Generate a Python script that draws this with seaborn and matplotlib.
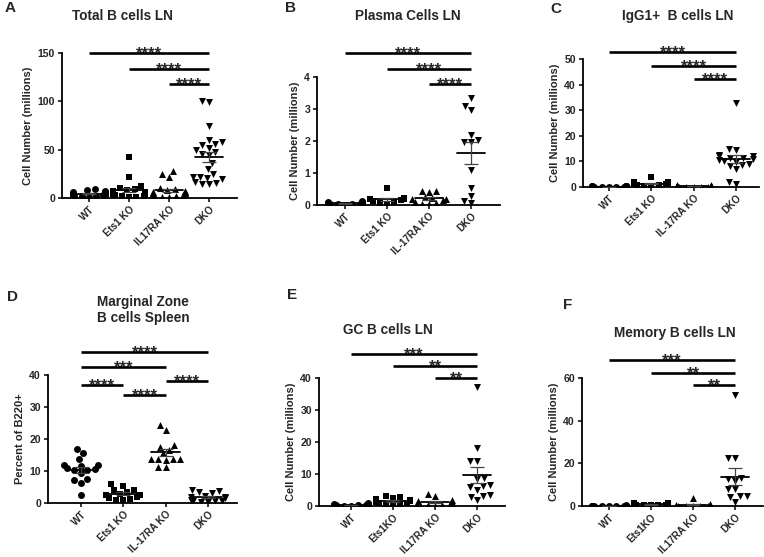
import numpy as np
import pandas as pd
import matplotlib
matplotlib.use("Agg")
import matplotlib.pyplot as plt
import seaborn as sns

sns.set_style("ticks")
plt.rcParams["font.family"] = ["Liberation Sans", "DejaVu Sans"]
plt.rcParams["font.weight"] = "bold"
plt.rcParams["axes.labelweight"] = "bold"

# ---------------- data ----------------
markers = ["o", "s", "^", "v"]

# A: Total B cells LN
a_labels = ["WT", "Ets1 KO", "IL17RA KO", "DKO"]
a_wt = [2, 3, 4, 5, 6, 8, 9, 3, 2, 4, 5, 3, 1, 2, 6, 7]
a_ets = [42, 22, 12, 10, 8, 7, 6, 5, 5, 4, 3, 3, 2, 2, 1, 1, 4, 6, 9]
a_il = [28, 25, 22, 10, 9, 8, 7, 6, 5, 5, 4, 3, 3, 2, 2, 1, 1, 4, 6]
a_dko = [100, 99, 75, 60, 58, 56, 55, 52, 50, 48, 46, 44, 36, 30, 25, 22, 22, 21, 20, 17, 16, 15, 14]
a_sig = [(0, 3, 150, "****"), (1, 3, 133.5, "****"), (2, 3, 118, "****")]

# B: Plasma Cells LN
b_labels = ["WT", "Ets1 KO", "IL-17RA KO", "DKO"]
b_wt = [0.12, 0.1, 0.08, 0.07, 0.06, 0.05, 0.04, 0.04, 0.03, 0.03, 0.02, 0.02, 0.01]
b_ets = [0.52, 0.22, 0.2, 0.2, 0.18, 0.15, 0.12, 0.1, 0.05, 0.04]
b_il = [0.45, 0.42, 0.44, 0.25, 0.22, 0.2, 0.15, 0.1, 0.05, 0.03, 0.02, 0.2]
b_dko = [3.33, 3.1, 2.97, 2.2, 1.98, 1.96, 2.03, 1.09, 0.52, 0.29, 0.05, 0.13]
b_sig = [(0, 3, 4.75, "****"), (1, 3, 4.25, "****"), (2, 3, 3.78, "****")]

# C: IgG1+ B cells LN
c_labels = ["WT", "Ets1 KO", "IL-17RA KO", "DKO"]
c_wt = [0.3, 0.25, 0.2, 0.2, 0.15, 0.15, 0.1, 0.1, 0.1, 0.05, 0.2, 0.3, 0.1, 0.15]
c_ets = [4, 2, 1.8, 1.5, 1.5, 1.2, 1, 1, 0.8, 0.6, 0.5, 0.4, 1.3]
c_il = [0.8, 0.6, 0.5, 0.4, 0.3, 0.3, 0.2, 0.2, 0.1, 0.1, 0.1, 0.05, 0.05, 0.2]
c_dko = [33, 15, 14.5, 12.5, 12.3, 12, 11.5, 11.2, 11, 10.5, 10, 9.8, 9, 8.5, 8.3, 7, 2, 1]
c_sig = [(0, 3, 52.7, "****"), (1, 3, 47.3, "****"), (2, 3, 42.2, "****")]

# D: Marginal Zone B cells Spleen
d_labels = ["WT", "Ets1 KO", "IL-17RA KO", "DKO"]
d_wt = [16.8, 15.5, 13.6, 12, 11.8, 11.5, 10.8, 10.5, 10.4, 10.2, 9.3, 7.5, 7.2, 6.4, 2.5]
d_ets = [5.9, 5.4, 4.2, 4.0, 3.5, 2.8, 2.6, 2.4, 2.0, 1.6, 1.2, 1.0, 0.8]
d_il = [24.3, 22.8, 18.1, 17.5, 16.5, 15.5, 13.7, 13.6, 13.6, 13.6, 13.5, 11.4, 11.2]
d_dko = [4.2, 3.9, 3.5, 3.2, 2.3, 2.0, 1.8, 1.6, 0.7, 0.5, 0.4, 0.3, 0.6, 1.0]
d_sig = [(0, 3, 47.2, "****"), (0, 2, 42.5, "***"), (0, 1, 36.9, "****"),
         (2, 3, 38.1, "****"), (1, 2, 33.75, "****")]

# E: GC B cells LN
e_labels = ["WT", "Ets1KO", "IL17RA KO", "DKO"]
e_wt = [0.8, 0.6, 0.5, 0.4, 0.3, 0.3, 0.2, 0.2, 0.1, 0.1, 0.5, 0.2]
e_ets = [3, 2.8, 2.5, 2.2, 2.0, 1.8, 1.5, 1.2, 1.0, 0.8, 0.6, 0.4, 0.3]
e_il = [3.6, 3.2, 2.0, 1.5, 1.2, 1.0, 0.8, 0.6, 0.5, 0.4, 0.3, 0.2, 0.1]
e_dko = [37.3, 18.2, 14.2, 14.0, 8.6, 8.3, 6.5, 6.2, 5.8, 5.0, 3.3, 3.0, 2.8, 1.8]
e_sig = [(0, 3, 47.5, "***"), (1, 3, 43.75, "**"), (2, 3, 40, "**")]

# F: Memory B cells LN
f_labels = ["WT", "Ets1KO", "IL17RA KO", "DKO"]
f_wt = [0.2, 0.1, 0.1, 0.3, 0.2, 0.1, 0.05, 0.1, 0.2, 0.15, 0.1, 0.1]
f_ets = [1.5, 1.2, 1.0, 0.8, 0.6, 0.5, 0.4, 0.3, 0.8, 0.5]
f_il = [3.8, 0.8, 0.5, 0.3, 0.2, 0.2, 0.1, 0.1, 0.1, 0.05]
f_dko = [52, 22.5, 22.3, 13, 12.5, 11.5, 8.2, 7.8, 4.8, 4.5, 4.3, 2.0]
f_sig = [(0, 3, 68.4, "***"), (1, 3, 62.3, "**"), (2, 3, 56.7, "**")]

titles = ["Total B cells LN", "Plasma Cells LN", "IgG1+  B cells LN",
          "Marginal Zone\nB cells Spleen", "GC B cells LN", "Memory B cells LN"]
letters = ["A", "B", "C", "D", "E", "F"]
ylabels = ["Cell Number (millions)"] * 3 + ["Percent of B220+"] + ["Cell Number (millions)"] * 2
yticks = [[0, 50, 100, 150], [0, 1, 2, 3, 4], [0, 10, 20, 30, 40, 50],
          [0, 10, 20, 30, 40], [0, 10, 20, 30, 40], [0, 20, 40, 60]]

panels = [
    (a_labels, [a_wt, a_ets, a_il, a_dko], a_sig),
    (b_labels, [b_wt, b_ets, b_il, b_dko], b_sig),
    (c_labels, [c_wt, c_ets, c_il, c_dko], c_sig),
    (d_labels, [d_wt, d_ets, d_il, d_dko], d_sig),
    (e_labels, [e_wt, e_ets, e_il, e_dko], e_sig),
    (f_labels, [f_wt, f_ets, f_il, f_dko], f_sig),
]

# ---------------- layout (pixels) ----------------
W, H = 764, 557
# left, right, y of zero, y of top tick, first category px, category spacing px
boxes = [
    (62, 237, 198, 53, 89, 40.0),
    (317, 500, 205, 77, 345, 42.0),
    (583, 759, 187, 59, 609, 42.3),
    (48, 237, 503, 375, 81, 42.3),
    (319, 505, 506, 378, 351, 42.0),
    (582, 763, 506, 378, 609, 42.0),
]
title_pos = [(122, 16), (408, 16), (678, 16), (143, 310), (388, 330), (675, 333)]
letter_pos = [(5, 8), (285, 8), (550, 9), (7, 297), (287, 295), (563, 305)]

fig = plt.figure(figsize=(W / 100, H / 100), dpi=100)

for k, (labels, vals, sig) in enumerate(panels):
    L, R, y0, ytop, c0, s = boxes[k]
    ax = fig.add_axes([L / W, 1 - y0 / H, (R - L) / W, (y0 - ytop) / H])
    for i, v in enumerate(vals):
        df = pd.DataFrame({"g": [labels[i]] * len(v), "v": v})
        sns.swarmplot(data=df, x="g", y="v", order=labels, marker=markers[i],
                      color="black", size=5, linewidth=0, ax=ax, warn_thresh=1)
        arr = np.asarray(v, dtype=float)
        m = arr.mean()
        se = arr.std(ddof=1) / np.sqrt(len(arr))
        ax.plot([i - 0.34, i + 0.34], [m, m], color="black", lw=1.3, zorder=5)
        ax.errorbar(i, m, yerr=se, fmt="none", ecolor="#444444", elinewidth=0.9,
                    capsize=5, capthick=0.9, zorder=5)
    ax.set_xlim((L - c0) / s, (R - c0) / s)
    ymax = yticks[k][-1]
    ax.set_ylim(0, ymax)
    ax.set_yticks(yticks[k])
    ax.set_xticks(range(4))
    ax.set_xticklabels(labels, rotation=45, ha="right", rotation_mode="anchor",
                       fontsize=7.1, fontweight="bold")
    ax.tick_params(axis="both", length=3, width=1.1, labelsize=7.6, pad=2, color="black")
    ax.tick_params(axis="x", labelsize=7.1, pad=1.5)
    ax.set_xlabel("")
    ax.set_ylabel(ylabels[k], fontsize=8, fontweight="bold", labelpad=3)
    sns.despine(ax=ax)
    for sp in ("left", "bottom"):
        ax.spines[sp].set_linewidth(1.3)
        ax.spines[sp].set_color("black")
    for (i, j, y, txt) in sig:
        ax.plot([i, j], [y, y], color="black", lw=1.9, clip_on=False,
                solid_capstyle="butt", zorder=6)
        ax.annotate(txt, xy=((i + j) / 2, y), xytext=(0, -4),
                    textcoords="offset points", ha="center", va="baseline",
                    fontsize=12, fontweight="bold", annotation_clip=False)
    tx, ty = title_pos[k]
    fig.text(tx / W, 1 - ty / H, titles[k], ha="center", va="center",
             fontsize=9.8, fontweight="bold", linespacing=1.1)
    lx, ly = letter_pos[k]
    fig.text(lx / W, 1 - ly / H, letters[k], ha="left", va="center",
             fontsize=11, fontweight="bold")

fig.savefig("out.png", dpi=100)
